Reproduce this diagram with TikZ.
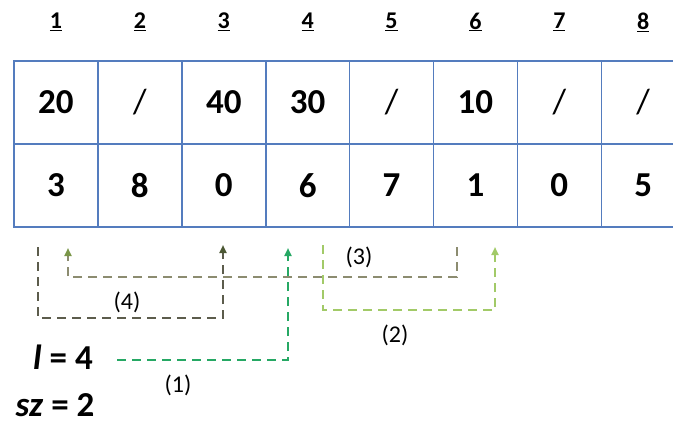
\documentclass[tikz,border=0pt]{standalone}
\usepackage{fontspec}
\setmainfont{Carlito}
\usetikzlibrary{arrows.meta}

\definecolor{gridblue}{RGB}{84,124,190}
\definecolor{linkone}{RGB}{38,168,100}
\definecolor{linktwo}{RGB}{162,202,104}
\definecolor{linkthree}{RGB}{140,140,112}
\definecolor{tipthree}{RGB}{122,150,72}
\definecolor{linkfour}{RGB}{92,92,76}
\definecolor{tipfour}{RGB}{76,88,52}

\begin{document}
\begin{tikzpicture}[x=1pt, y=-1pt,
    cell/.style={draw=gridblue, line width=1.6pt, minimum width=83.9pt,
        minimum height=83pt, inner sep=0pt, font=\fontsize{35}{40}\selectfont\bfseries},
    index/.style={font=\fontsize{24}{28}\selectfont\bfseries},
    var/.style={inner sep=0pt, font=\fontsize{35}{40}\selectfont\bfseries},
    link/.style={line width=2.4pt, dash pattern=on 9pt off 6pt},
    tip/.style={-{Triangle[width=7pt, length=8pt]}},
    step label/.style={font=\fontsize{24}{28}\selectfont}]
    \useasboundingbox (0,0) rectangle (673,423);

    % Indices
    \foreach \i in {1,...,8}
        \node[index] (idx\i) at ({14+83.9*(\i-0.5)}, 22) {\underline{\i}};

    % Cells: key row and next row
    \foreach \i/\k/\n in {1/20/3, 2/{\mdseries /}/8, 3/40/0, 4/30/6,
                          5/{\mdseries /}/7, 6/10/1, 7/{\mdseries /}/0, 8/{\mdseries /}/5} {
        \node[cell] (key\i) at ({14+83.9*(\i-0.5)}, 102.5) {\k};
        \node[cell] (nxt\i) at ({14+83.9*(\i-0.5)}, 185.5) {\n};
    }

    % Variables
    \node[var] (lval) at (63, 357) {\textit{l} = 4};
    \node[var] (szval) at (55, 405) {\textit{sz} = 2};

    % Link ends
    \coordinate (s1) at (117, 360);
    \coordinate (t1) at (288, 248);
    \coordinate (s2) at (323, 245);
    \coordinate (t2) at (495, 247);
    \coordinate (s3) at (457, 247);
    \coordinate (t3) at (68, 248);
    \coordinate (s4) at (38, 247);
    \coordinate (t4) at (223, 245);

    % (4)
    \draw[link, linkfour, -{Triangle[width=7pt, length=8pt, color=tipfour]}]
        (s4) -- ++(0, 71) -| (t4);
    \node[step label] (lab4) at (127, 302) {(4)};

    % (3)
    \draw[link, linkthree, -{Triangle[width=7pt, length=8pt, color=tipthree]}]
        (s3) -- ++(0, 30) -| (t3);
    \node[step label] (lab3) at (359, 257) {(3)};

    % (2)
    \draw[link, linktwo, tip] (s2) -- ++(0, 65) -| (t2);
    \node[step label] (lab2) at (395, 335) {(2)};

    % (1)
    \draw[link, linkone, tip] (s1) -| (t1);
    \node[step label] (lab1) at (178, 385) {(1)};
\end{tikzpicture}
\end{document}
